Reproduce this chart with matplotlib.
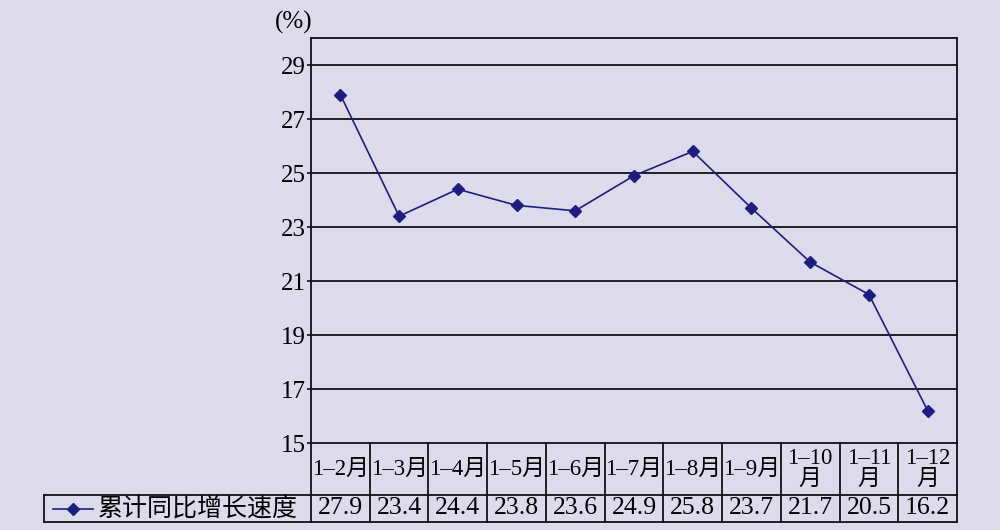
import matplotlib.pyplot as plt

plt.rcParams['font.family'] = ['Liberation Serif', 'Noto Sans CJK SC']

months = ["1–2月", "1–3月", "1–4月", "1–5月", "1–6月", "1–7月", "1–8月", "1–9月",
          "1–10\n月", "1–11\n月", "1–12\n月"]
growth = [27.9, 23.4, 24.4, 23.8, 23.6, 24.9, 25.8, 23.7, 21.7, 20.5, 16.2]
series_name = "累计同比增长速度"
yticks = [15, 17, 19, 21, 23, 25, 27, 29]

bg = "#dddaeb"
navy = "#1e1e82"

fig = plt.figure(figsize=(10, 5.3), dpi=100, facecolor=bg)
W, H = 1000, 530

# main plot area (pixel box)
L, R, T, B = 311, 957, 38, 443
ax = fig.add_axes([L / W, 1 - B / H, (R - L) / W, (B - T) / H])
ax.set_facecolor(bg)
x = list(range(len(growth)))
ax.plot(x, growth, color=navy, lw=1.2, marker="D", ms=6.5, zorder=3)
ax.set_xlim(-0.5, len(growth) - 0.5)
ax.set_ylim(15, 30)
ax.set_yticks(yticks)
ax.set_yticklabels([str(v) for v in yticks], fontsize=18)
ax.set_xticks([])
for v in yticks[1:]:
    ax.axhline(v, color="#111111", lw=1.3, zorder=1)
for s in ax.spines.values():
    s.set_color("#111111")
    s.set_linewidth(1.3)
ax.tick_params(axis="y", length=3, width=1.2, pad=1, color="#111111")
fig.text((L + 1) / W, 1 - 22 / H, "(%)", fontsize=18, ha="right", va="center")

# table below the plot
TL, TB = 44, 522
RowMid = 495
col_w = (R - L) / len(growth)


def hline(x0, x1, yp):
    fig.add_artist(plt.Line2D([x0 / W, x1 / W], [1 - yp / H, 1 - yp / H],
                              color="#111111", lw=1.3))


def vline(xp, y0, y1):
    fig.add_artist(plt.Line2D([xp / W, xp / W], [1 - y0 / H, 1 - y1 / H],
                              color="#111111", lw=1.3))


hline(TL, R, RowMid)
hline(TL, R, TB)
vline(TL, RowMid, TB)
for i in range(len(growth) + 1):
    vline(L + i * col_w, B, TB)

for i, (m, v) in enumerate(zip(months, growth)):
    cx = (L + (i + 0.5) * col_w) / W
    fig.text(cx, 1 - (B + RowMid) / 2 / H, m, fontsize=16.5, ha="center", va="center",
             linespacing=0.95)
    fig.text(cx, 1 - (RowMid + TB) / 2 / H, f"{v:.1f}", fontsize=18.5, ha="center",
             va="center")

# legend cell
ly = 1 - (RowMid + TB) / 2 / H
fig.add_artist(plt.Line2D([53 / W, 93 / W], [ly, ly], color=navy, lw=1.2))
fig.add_artist(plt.Line2D([73 / W], [ly], color=navy, marker="D", ms=6.5))
fig.text(98 / W, ly, series_name, fontsize=18, ha="left", va="center",
         family=['Noto Sans CJK SC', 'DejaVu Sans'])

fig.savefig("out.png", dpi=100, facecolor=bg)
